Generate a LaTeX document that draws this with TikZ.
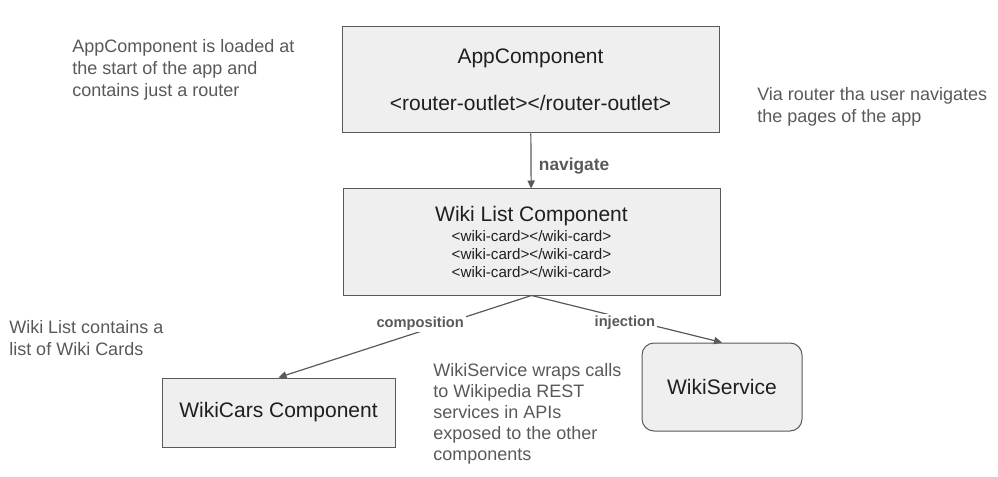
\documentclass[tikz,border=0pt]{standalone}
\usepackage{fontspec}
\setmainfont{Liberation Sans}
\usetikzlibrary{arrows.meta}

\definecolor{boxfill}{HTML}{EFEFEF}
\definecolor{linegray}{HTML}{595959}
\definecolor{notegray}{HTML}{595959}

\begin{document}
\begin{tikzpicture}[x=0.75pt, y=-0.75pt,
    box/.style={draw=linegray, fill=boxfill, line width=0.75pt, align=center,
      text=black!88, font=\fontsize{15.75}{19}\selectfont},
    note/.style={anchor=west, align=left, inner sep=0, text=notegray,
      font=\fontsize{13.5}{16.5}\selectfont},
    link/.style={draw=linegray, line width=0.9pt, -{Triangle[length=6pt, width=5.5pt]}},
    linklabel/.style={fill=white, text=notegray, inner sep=1.5pt,
      font=\bfseries\fontsize{11}{13}\selectfont}
  ]
  \useasboundingbox (0,0) rectangle (998,477);

  % components
  \node[box, minimum width=282.75pt, minimum height=79.5pt] (app) at (530.5,80)
    {AppComponent\\[16pt] <router-outlet></router-outlet>};
  \node[box, minimum width=282.75pt, minimum height=79.5pt,
    font=\fontsize{11.4}{13.5}\selectfont] (list) at (531.5,242)
    {{\fontsize{15.75}{19}\selectfont Wiki List Component}\\[1pt]
     <wiki-card></wiki-card>\\ <wiki-card></wiki-card>\\ <wiki-card></wiki-card>};
  \node[box, minimum width=174.75pt, minimum height=51.75pt] (cars) at (278.5,412.5)
    {WikiCars Component};
  \node[box, rounded corners=9pt, minimum width=120pt, minimum height=66pt] (service) at (722,387)
    {WikiService};

  % notes
  \node[note] (appnote) at (72,70)
    {AppComponent is loaded at\\ the start of the app and\\ contains just a router};
  \node[note] (routernote) at (757,107)
    {Via router tha user navigates\\ the pages of the app};
  \node[note] (listnote) at (9,338)
    {Wiki List contains a\\ list of Wiki Cards};
  \node[note, font=\fontsize{13.5}{15.75}\selectfont] (servicenote) at (433,414)
    {WikiService wraps calls\\ to Wikipedia REST\\ services in APIs\\ exposed to the other\\ components};

  % connectors
  \draw[link] (app) -- node[linklabel, fill=none, anchor=west, xshift=4pt, yshift=-3.5pt,
    font=\bfseries\fontsize{13}{15}\selectfont] (navlabel) {navigate} (list);
  \draw[link] (list.south) -- node[linklabel, pos=.44, yshift=6pt] (complabel) {composition} (cars.north);
  \draw[link] (list.south) -- node[linklabel, pos=.49, yshift=-3pt] (injlabel) {injection} (service.north);
\end{tikzpicture}
\end{document}
